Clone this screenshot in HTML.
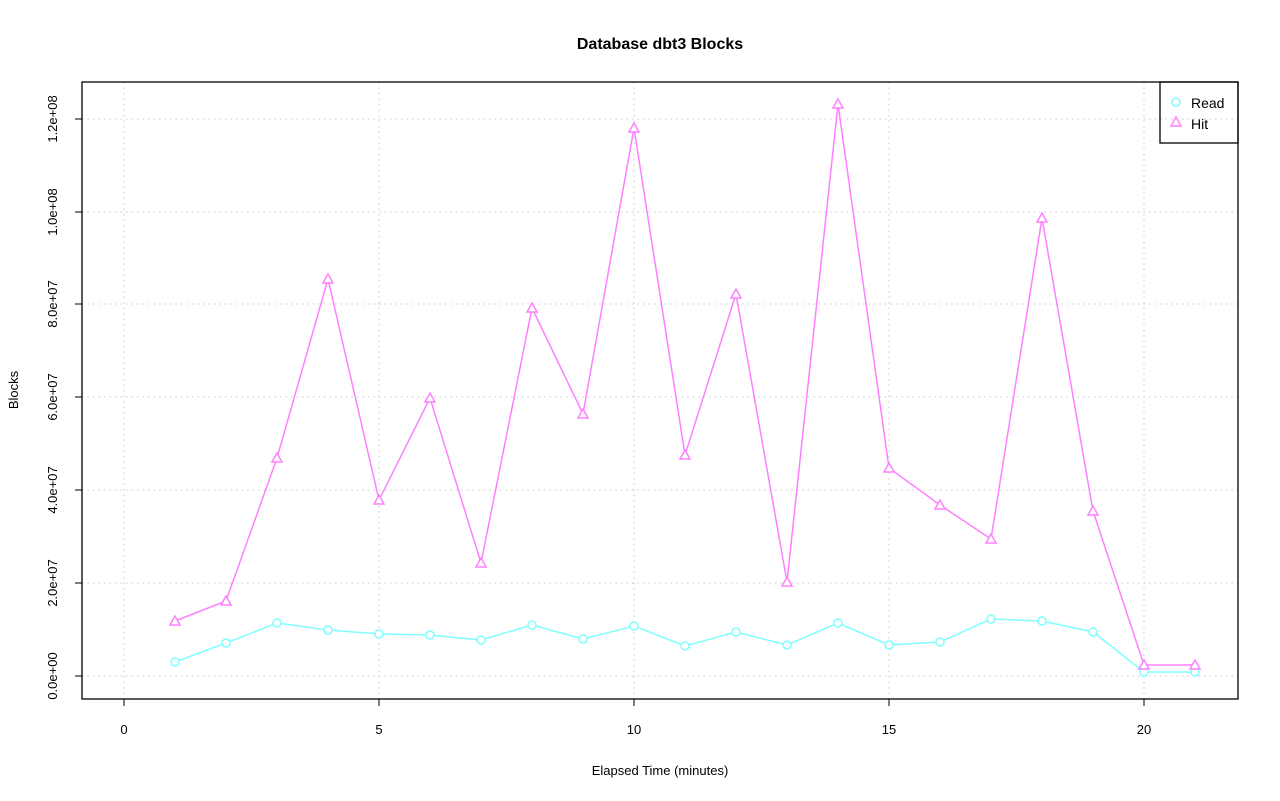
<!DOCTYPE html>
<html><head><meta charset="utf-8"><style>body{margin:0;background:#fff}svg{display:block}</style></head><body>
<svg width="1280" height="801" xmlns="http://www.w3.org/2000/svg" font-family="Liberation Sans, sans-serif">
<rect width="1280" height="801" fill="#fff"/>
<text x="660" y="49" text-anchor="middle" font-size="16" font-weight="bold">Database dbt3 Blocks</text>
<g stroke="#c8c8c8" stroke-dasharray="1.5,4" stroke-width="1">
<line x1="124" y1="82" x2="124" y2="699"/><line x1="379" y1="82" x2="379" y2="699"/><line x1="634" y1="82" x2="634" y2="699"/><line x1="889" y1="82" x2="889" y2="699"/><line x1="1144" y1="82" x2="1144" y2="699"/>
<line x1="82" y1="676" x2="1238" y2="676"/><line x1="82" y1="583" x2="1238" y2="583"/><line x1="82" y1="490" x2="1238" y2="490"/><line x1="82" y1="397" x2="1238" y2="397"/><line x1="82" y1="304" x2="1238" y2="304"/><line x1="82" y1="212" x2="1238" y2="212"/><line x1="82" y1="119" x2="1238" y2="119"/>
</g>
<rect x="82" y="82" width="1156" height="617" fill="none" stroke="#000" stroke-width="1.3"/>
<g stroke="#000"><line x1="124" y1="699" x2="124" y2="706"/><line x1="379" y1="699" x2="379" y2="706"/><line x1="634" y1="699" x2="634" y2="706"/><line x1="889" y1="699" x2="889" y2="706"/><line x1="1144" y1="699" x2="1144" y2="706"/>
<line x1="75" y1="676" x2="82" y2="676"/><line x1="75" y1="583" x2="82" y2="583"/><line x1="75" y1="490" x2="82" y2="490"/><line x1="75" y1="397" x2="82" y2="397"/><line x1="75" y1="304" x2="82" y2="304"/><line x1="75" y1="212" x2="82" y2="212"/><line x1="75" y1="119" x2="82" y2="119"/></g>
<g font-size="13" text-anchor="middle"><text x="124" y="734">0</text><text x="379" y="734">5</text><text x="634" y="734">10</text><text x="889" y="734">15</text><text x="1144" y="734">20</text>
<text x="660" y="775">Elapsed Time (minutes)</text>
<text transform="translate(57,676) rotate(-90)">0.0e+00</text><text transform="translate(57,583) rotate(-90)">2.0e+07</text><text transform="translate(57,490) rotate(-90)">4.0e+07</text><text transform="translate(57,397) rotate(-90)">6.0e+07</text><text transform="translate(57,304) rotate(-90)">8.0e+07</text><text transform="translate(57,212) rotate(-90)">1.0e+08</text><text transform="translate(57,119) rotate(-90)">1.2e+08</text>
<text transform="translate(18,390) rotate(-90)">Blocks</text></g>
<polyline fill="none" stroke="#80ffff" stroke-width="1.5" points="175,662 226,643 277,623 328,630 379,634 430,635 481,640 532,625 583,639 634,626 685,646 736,632 787,645 838,623 889,645 940,642 991,619 1042,621 1093,632 1144,672 1195,672"/>
<polyline fill="none" stroke="#ff80ff" stroke-width="1.5" points="175,621 226,601 277,458 328,279 379,500 430,398 481,563 532,308 583,414 634,128 685,455 736,294 787,582 838,104 889,468 940,505 991,539 1042,218 1093,511 1144,665 1195,665"/>
<g fill="#fff" stroke="#80ffff" stroke-width="1.5">
<circle cx="175" cy="662" r="4"/><circle cx="226" cy="643" r="4"/><circle cx="277" cy="623" r="4"/><circle cx="328" cy="630" r="4"/><circle cx="379" cy="634" r="4"/><circle cx="430" cy="635" r="4"/><circle cx="481" cy="640" r="4"/><circle cx="532" cy="625" r="4"/><circle cx="583" cy="639" r="4"/><circle cx="634" cy="626" r="4"/><circle cx="685" cy="646" r="4"/><circle cx="736" cy="632" r="4"/><circle cx="787" cy="645" r="4"/><circle cx="838" cy="623" r="4"/><circle cx="889" cy="645" r="4"/><circle cx="940" cy="642" r="4"/><circle cx="991" cy="619" r="4"/><circle cx="1042" cy="621" r="4"/><circle cx="1093" cy="632" r="4"/><circle cx="1144" cy="672" r="4"/><circle cx="1195" cy="672" r="4"/>
<circle cx="1176" cy="102" r="4"/></g>
<g fill="#fff" stroke="#ff80ff" stroke-width="1.5">
<path d="M175,616l-5,9h10z"/><path d="M226,596l-5,9h10z"/><path d="M277,453l-5,9h10z"/><path d="M328,274l-5,9h10z"/><path d="M379,495l-5,9h10z"/><path d="M430,393l-5,9h10z"/><path d="M481,558l-5,9h10z"/><path d="M532,303l-5,9h10z"/><path d="M583,409l-5,9h10z"/><path d="M634,123l-5,9h10z"/><path d="M685,450l-5,9h10z"/><path d="M736,289l-5,9h10z"/><path d="M787,577l-5,9h10z"/><path d="M838,99l-5,9h10z"/><path d="M889,463l-5,9h10z"/><path d="M940,500l-5,9h10z"/><path d="M991,534l-5,9h10z"/><path d="M1042,213l-5,9h10z"/><path d="M1093,506l-5,9h10z"/><path d="M1144,660l-5,9h10z"/><path d="M1195,660l-5,9h10z"/>
<path d="M1176,117l-5,9h10z"/></g>
<rect x="1160" y="82" width="78" height="61" fill="none" stroke="#000" stroke-width="1.3"/>
<text x="1191" y="108" font-size="14">Read</text><text x="1191" y="129" font-size="14">Hit</text>
</svg>
</body></html>
